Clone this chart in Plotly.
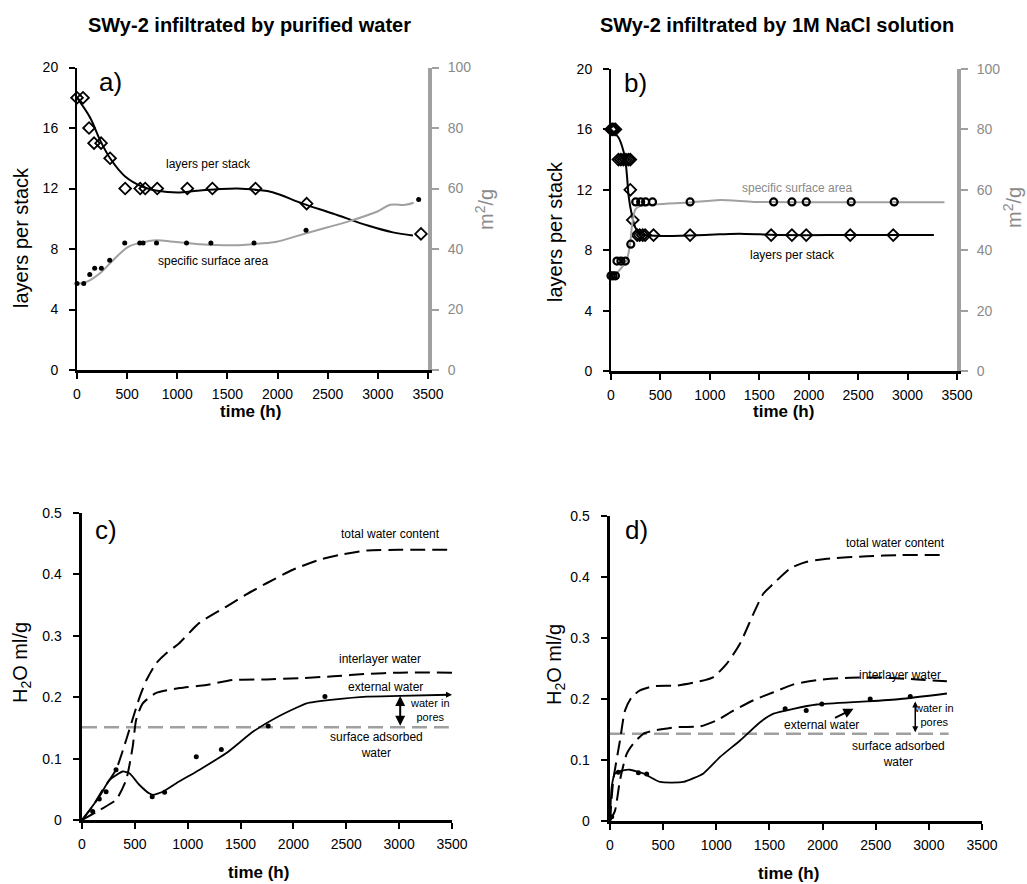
import plotly.graph_objects as go

# ---------------- data ----------------
# panel a: purified water
a_layers_t = [0, 60, 120, 170, 240, 330, 480, 630, 680, 800, 1100, 1350, 1780, 2290, 3430]
a_layers = [18, 18, 16, 15, 15, 14, 12, 12, 12, 12, 12, 12, 12, 11, 9]
a_layers_fit_t = [0, 130, 230, 330, 480, 660, 800, 1000, 1200, 1400, 1600, 1800, 1950, 2250, 2550, 2900, 3150, 3350]
a_layers_fit = [18.0, 16.7, 15.2, 14.0, 12.8, 12.1, 11.85, 11.73, 11.85, 11.95, 12.0, 11.9, 11.75, 11.0, 10.35, 9.55, 9.1, 8.9]
a_ssa_t = [0, 67, 127, 176, 243, 326, 476, 626, 659, 793, 1092, 1335, 1765, 2284, 3407]
a_ssa = [28.6, 28.6, 31.6, 33.6, 33.6, 36.3, 42, 42, 42, 42, 42, 42, 42, 46.2, 56.4]
a_ssa_fit_t = [0, 100, 226, 360, 510, 626, 793, 959, 1225, 1558, 1891, 1991, 2224, 2491, 2724, 2990, 3123, 3273, 3357]
a_ssa_fit = [28.4, 29.2, 31.9, 36.3, 40.7, 42.0, 42.9, 42.4, 41.6, 41.25, 42.0, 42.4, 44.6, 47.1, 49.3, 52.3, 54.6, 54.6, 55.3]

# panel b: 1M NaCl
b_layers_t = [0, 15, 30, 45, 75, 100, 125, 150, 175, 195, 195, 220, 265, 290, 320, 345, 430, 800, 1620, 1830, 1975, 2420, 2855]
b_layers = [16, 16, 16, 16, 14, 14, 14, 14, 14, 14, 12, 10, 9, 9, 9, 9, 9, 9, 9, 9, 9, 9, 9]
b_layers_fit_t = [0, 77, 111, 145, 162, 178, 212, 246, 296, 465, 800, 1100, 1300, 1500, 1700, 2200, 3266]
b_layers_fit = [16.0, 15.45, 14.9, 14.0, 12.9, 11.6, 10.3, 9.5, 9.05, 8.95, 8.98, 9.05, 9.09, 9.05, 9.0, 9.0, 9.0]
b_ssa_t = [0, 20, 45, 60, 100, 145, 200, 250, 300, 350, 420, 800, 1645, 1830, 1975, 2430, 2865]
b_ssa = [31.5, 31.5, 31.5, 36.4, 36.4, 36.4, 42.0, 56, 56, 56, 56, 56, 56, 56, 56, 56, 56]
b_ssa_fit_t = [0, 60, 145, 162, 195, 212, 246, 296, 465, 802, 1105, 1442, 2000, 3373]
b_ssa_fit = [30.9, 32.5, 35.9, 37.0, 42.5, 48.0, 53.5, 54.6, 55.2, 55.8, 56.6, 56.0, 55.9, 55.9]

# panel c: purified water, water content
c_total_t = [0, 100, 196, 322, 417, 480, 545, 610, 700, 800, 920, 1110, 1370, 1550, 1750, 2000, 2250, 2440, 2700, 3000, 3490]
c_total = [0, 0.022, 0.049, 0.082, 0.13, 0.165, 0.2, 0.228, 0.255, 0.272, 0.288, 0.321, 0.348, 0.367, 0.386, 0.408, 0.424, 0.432, 0.439, 0.44, 0.44]
c_inter_t = [0, 164, 322, 417, 480, 512, 575, 702, 923, 1176, 1429, 1745, 2061, 2377, 2694, 3010, 3500]
c_inter = [0, 0.016, 0.033, 0.065, 0.12, 0.163, 0.19, 0.207, 0.215, 0.22, 0.228, 0.229, 0.231, 0.234, 0.238, 0.24, 0.24]
c_ext_t = [0, 164, 259, 386, 449, 544, 639, 670, 765, 892, 1113, 1366, 1619, 1840, 2125, 2377, 2694, 3010, 3468]
c_ext = [0, 0.038, 0.065, 0.079, 0.076, 0.057, 0.043, 0.041, 0.046, 0.06, 0.082, 0.109, 0.144, 0.167, 0.19, 0.196, 0.201, 0.202, 0.204]
c_dots_t = [101, 164, 228, 322, 664, 781, 1081, 1318, 1761, 2298]
c_dots = [0.014, 0.034, 0.046, 0.082, 0.038, 0.045, 0.103, 0.115, 0.153, 0.201]
c_surface_t = [0, 3470]
c_surface = [0.151, 0.151]

# panel d: 1M NaCl, water content
d_total_t = [0, 31, 94, 141, 204, 282, 408, 628, 847, 973, 1099, 1224, 1350, 1444, 1538, 1695, 1852, 2040, 2417, 2731, 3150]
d_total = [0, 0.067, 0.132, 0.181, 0.203, 0.214, 0.221, 0.222, 0.229, 0.236, 0.258, 0.291, 0.34, 0.373, 0.389, 0.414, 0.425, 0.43, 0.434, 0.436, 0.436]
d_inter_t = [0, 47, 94, 157, 220, 314, 439, 628, 847, 1004, 1161, 1350, 1538, 1726, 1946, 2260, 2574, 2888, 3170]
d_inter = [0, 0.017, 0.067, 0.11, 0.127, 0.143, 0.149, 0.154, 0.155, 0.165, 0.181, 0.198, 0.211, 0.224, 0.231, 0.235, 0.235, 0.232, 0.229]
d_ext_t = [0, 16, 47, 126, 188, 314, 471, 691, 879, 1036, 1224, 1412, 1538, 1726, 1946, 2417, 2731, 3170]
d_ext = [0, 0.056, 0.078, 0.083, 0.084, 0.078, 0.064, 0.064, 0.078, 0.105, 0.132, 0.162, 0.176, 0.184, 0.191, 0.196, 0.2, 0.209]
d_dots_t = [16, 78, 267, 345, 1648, 1846, 1993, 2448, 2825]
d_dots = [0.007, 0.08, 0.079, 0.077, 0.184, 0.181, 0.192, 0.2, 0.204]
d_surface_t = [0, 3186]
d_surface = [0.143, 0.143]

x_ticks = [0, 500, 1000, 1500, 2000, 2500, 3000, 3500]
layer_ticks = [0, 4, 8, 12, 16, 20]
ssa_ticks = [0, 20, 40, 60, 80, 100]
water_ticks = [0, 0.1, 0.2, 0.3, 0.4, 0.5]
water_ticktext = ["0", "0.1", "0.2", "0.3", "0.4", "0.5"]

# ---------------- figure ----------------
W, H = 1027, 884
FONT = "Liberation Sans, Arial, sans-serif"
BLACK = "#000000"
GREY = "#a0a0a0"
GREYTXT = "#8a8a8a"


def px(v):
    return v / W


def py(v):
    return 1 - v / H


fig = go.Figure()

LDASH = "15px,7px"
GDASH = "15px,7px"

# panel a
fig.add_trace(go.Scatter(x=a_layers_fit_t, y=a_layers_fit, mode="lines", line=dict(color=BLACK, width=2, shape="spline"),
                         xaxis="x", yaxis="y", hoverinfo="skip"))
fig.add_trace(go.Scatter(x=a_ssa_fit_t, y=a_ssa_fit, mode="lines", line=dict(color=GREY, width=2, shape="spline"),
                         xaxis="x", yaxis="y2", hoverinfo="skip"))
fig.add_trace(go.Scatter(x=a_layers_t, y=a_layers, mode="markers",
                         marker=dict(symbol="diamond-open", size=9, color=BLACK, line=dict(width=1.8)),
                         xaxis="x", yaxis="y", cliponaxis=False))
fig.add_trace(go.Scatter(x=a_ssa_t, y=a_ssa, mode="markers", marker=dict(symbol="circle", size=5, color=BLACK),
                         xaxis="x", yaxis="y2", cliponaxis=False))

# panel b
fig.add_trace(go.Scatter(x=b_layers_fit_t, y=b_layers_fit, mode="lines", line=dict(color=BLACK, width=2, shape="spline", smoothing=0.6),
                         xaxis="x2", yaxis="y3", hoverinfo="skip"))
fig.add_trace(go.Scatter(x=b_ssa_fit_t, y=b_ssa_fit, mode="lines", line=dict(color=GREY, width=2, shape="spline", smoothing=0.6),
                         xaxis="x2", yaxis="y4", hoverinfo="skip"))
fig.add_trace(go.Scatter(x=b_layers_t, y=b_layers, mode="markers",
                         marker=dict(symbol="diamond-open", size=9, color=BLACK, line=dict(width=1.8)),
                         xaxis="x2", yaxis="y3", cliponaxis=False))
fig.add_trace(go.Scatter(x=b_ssa_t, y=b_ssa, mode="markers",
                         marker=dict(symbol="circle-open", size=7, color=BLACK, line=dict(width=2.2)),
                         xaxis="x2", yaxis="y4", cliponaxis=False))

# panel c
fig.add_trace(go.Scatter(x=c_surface_t, y=c_surface, mode="lines", line=dict(color=GREY, width=2.5, dash=GDASH),
                         xaxis="x3", yaxis="y5", hoverinfo="skip"))
fig.add_trace(go.Scatter(x=c_total_t, y=c_total, mode="lines", line=dict(color=BLACK, width=2, dash=LDASH, shape="spline", smoothing=0.6),
                         xaxis="x3", yaxis="y5"))
fig.add_trace(go.Scatter(x=c_inter_t, y=c_inter, mode="lines", line=dict(color=BLACK, width=2, dash=LDASH, shape="spline", smoothing=0.6),
                         xaxis="x3", yaxis="y5"))
fig.add_trace(go.Scatter(x=c_ext_t, y=c_ext, mode="lines", line=dict(color=BLACK, width=1.8, shape="spline", smoothing=0.5),
                         xaxis="x3", yaxis="y5"))
fig.add_trace(go.Scatter(x=c_dots_t, y=c_dots, mode="markers", marker=dict(symbol="circle", size=5, color=BLACK),
                         xaxis="x3", yaxis="y5", cliponaxis=False))

# panel d
fig.add_trace(go.Scatter(x=d_surface_t, y=d_surface, mode="lines", line=dict(color=GREY, width=2.5, dash=GDASH),
                         xaxis="x4", yaxis="y6", hoverinfo="skip"))
fig.add_trace(go.Scatter(x=d_total_t, y=d_total, mode="lines", line=dict(color=BLACK, width=2, dash=LDASH, shape="spline", smoothing=0.6),
                         xaxis="x4", yaxis="y6"))
fig.add_trace(go.Scatter(x=d_inter_t, y=d_inter, mode="lines", line=dict(color=BLACK, width=2, dash=LDASH, shape="spline", smoothing=0.6),
                         xaxis="x4", yaxis="y6"))
fig.add_trace(go.Scatter(x=d_ext_t, y=d_ext, mode="lines", line=dict(color=BLACK, width=1.8, shape="spline", smoothing=0.5),
                         xaxis="x4", yaxis="y6"))
fig.add_trace(go.Scatter(x=d_dots_t, y=d_dots, mode="markers", marker=dict(symbol="circle", size=5, color=BLACK),
                         xaxis="x4", yaxis="y6", cliponaxis=False))

tickfont = dict(family=FONT, size=14, color=BLACK)
tickfont_grey = dict(family=FONT, size=14, color=GREYTXT)


def xax(domain, anchor, lw=3):
    return dict(domain=domain, anchor=anchor, range=[0, 3500], tickvals=x_ticks, ticks="outside", ticklen=6,
                tickwidth=2, tickcolor=BLACK, showline=True, linewidth=lw, linecolor=BLACK, showgrid=False,
                zeroline=False, tickfont=tickfont, ticklabelstandoff=3, fixedrange=True, automargin=False)


def yax(domain, anchor, rng, tickvals, lw=2, ticktext=None):
    d = dict(domain=domain, anchor=anchor, range=rng, tickvals=tickvals, ticks="outside", ticklen=6, tickwidth=2,
             tickcolor=BLACK, showline=True, linewidth=lw, linecolor=BLACK, showgrid=False, zeroline=False,
             tickfont=tickfont, ticklabelstandoff=8, fixedrange=True, automargin=False)
    if ticktext:
        d["ticktext"] = ticktext
    return d


def yright(domain, anchor, overlay):
    return dict(domain=domain, anchor=anchor, overlaying=overlay, side="right", range=[0, 100], tickvals=ssa_ticks,
                ticks="outside", ticklen=7, tickwidth=2, tickcolor=GREY, showline=True, linewidth=4, linecolor=GREY,
                showgrid=False, zeroline=False, tickfont=tickfont_grey, ticklabelstandoff=6, fixedrange=True,
                automargin=False)


dom_a_x = [px(77), px(428)]
dom_a_y = [py(370), py(67.5)]
dom_b_x = [px(611), px(957)]
dom_b_y = [py(371), py(69)]
dom_c_x = [px(82), px(452)]
dom_c_y = [py(820), py(513)]
dom_d_x = [px(610), px(982)]
dom_d_y = [py(821), py(516)]

fig.update_layout(
    width=W, height=H, margin=dict(l=0, r=0, t=0, b=0, autoexpand=False), paper_bgcolor="white", plot_bgcolor="white",
    showlegend=False, font=dict(family=FONT, color=BLACK),
    xaxis=xax(dom_a_x, "y"),
    yaxis=yax(dom_a_y, "x", [0, 20], layer_ticks),
    yaxis2=yright(dom_a_y, "x", "y"),
    xaxis2=xax(dom_b_x, "y3"),
    yaxis3=yax(dom_b_y, "x2", [0, 20], layer_ticks),
    yaxis4=yright(dom_b_y, "x2", "y3"),
    xaxis3=xax(dom_c_x, "y5"),
    yaxis5=yax(dom_c_y, "x3", [0, 0.5], water_ticks, lw=3.5, ticktext=water_ticktext),
    xaxis4=xax(dom_d_x, "y6"),
    yaxis6=yax(dom_d_y, "x4", [0, 0.5], water_ticks, lw=3.5, ticktext=water_ticktext),
)

ann = []


def paper_text(x, y, text, size, bold=False, angle=0, color=BLACK):
    t = f"<b>{text}</b>" if bold else text
    ann.append(dict(x=px(x), y=py(y), xref="paper", yref="paper", text=t, showarrow=False, textangle=angle,
                    font=dict(family=FONT, size=size, color=color), xanchor="center", yanchor="middle"))


def data_text(xr, yr, x, y, text, size=12, color=BLACK):
    ann.append(dict(x=x, y=y, xref=xr, yref=yr, text=text, showarrow=False,
                    font=dict(family=FONT, size=size, color=color), xanchor="center", yanchor="middle"))


# titles
paper_text(249, 25, "SWy-2 infiltrated by purified water", 20, bold=True)
paper_text(777, 25, "SWy-2 infiltrated by 1M NaCl solution", 20, bold=True)
# x titles
paper_text(250, 411, "time (h)", 17, bold=True)
paper_text(783, 411, "time (h)", 17, bold=True)
paper_text(258, 872, "time (h)", 17, bold=True)
paper_text(788, 873, "time (h)", 17, bold=True)
# y titles
paper_text(21, 238, "layers per stack", 20, angle=-90)
paper_text(555, 232, "layers per stack", 20, angle=-90)
paper_text(484, 210, "m<sup>2</sup>/g", 20, angle=-90, color=GREYTXT)
paper_text(1012, 208, "m<sup>2</sup>/g", 20, angle=-90, color=GREYTXT)
paper_text(21, 663, "H<sub>2</sub>O ml/g", 20, angle=-90)
paper_text(555, 665, "H<sub>2</sub>O ml/g", 20, angle=-90)
# panel letters
paper_text(110, 82, "a)", 26)
paper_text(635, 83, "b)", 26)
paper_text(106, 530, "c)", 26)
paper_text(636, 530, "d)", 26)

# in-plot labels
data_text("x", "y", 1309, 13.6, "layers per stack")
data_text("x", "y", 1359, 7.2, "specific surface area")
data_text("x2", "y3", 1885, 12.1, "specific surface area", color=GREYTXT)
data_text("x2", "y3", 1835, 7.7, "layers per stack")

data_text("x3", "y5", 2915, 0.465, "total water content")
data_text("x3", "y5", 2820, 0.2625, "interlayer water")
data_text("x3", "y5", 2868, 0.217, "external water")
data_text("x3", "y5", 3294, 0.179, "water in<br>pores", size=11)
data_text("x3", "y5", 2789, 0.122, "surface adsorbed<br>water")

data_text("x4", "y6", 2683, 0.456, "total water content")
data_text("x4", "y6", 2731, 0.240, "interlayer water")
data_text("x4", "y6", 1993, 0.158, "external water")
data_text("x4", "y6", 3045, 0.173, "water in<br>pores", size=11)
data_text("x4", "y6", 2715, 0.110, "surface adsorbed<br>water")

# arrows
ann.append(dict(x=3010, y=0.202, ax=3010, ay=0.151, xref="x3", yref="y5", axref="x3", ayref="y5", text="",
                showarrow=True, arrowhead=2, startarrowhead=2, arrowside="end+start", arrowsize=1, arrowwidth=2,
                arrowcolor=BLACK))
ann.append(dict(x=3500, y=0.204, ax=3420, ay=0.204, xref="x3", yref="y5", axref="x3", ayref="y5", text="",
                showarrow=True, arrowhead=2, arrowsize=0.8, arrowwidth=1.5, arrowcolor=BLACK))
ann.append(dict(x=2872, y=0.196, ax=2872, ay=0.143, xref="x4", yref="y6", axref="x4", ayref="y6", text="",
                showarrow=True, arrowhead=2, startarrowhead=2, arrowside="end+start", arrowsize=0.8, arrowwidth=1.5,
                arrowcolor=BLACK))
ann.append(dict(x=2291, y=0.184, ax=2103, ay=0.168, xref="x4", yref="y6", axref="x4", ayref="y6", text="",
                showarrow=True, arrowhead=2, arrowsize=1, arrowwidth=2, arrowcolor=BLACK))

fig.update_layout(annotations=ann)

fig.write_html("out.html", config={"displayModeBar": False, "staticPlot": True},
               post_script="document.body.style.margin='0px';document.body.style.overflow='hidden';")
